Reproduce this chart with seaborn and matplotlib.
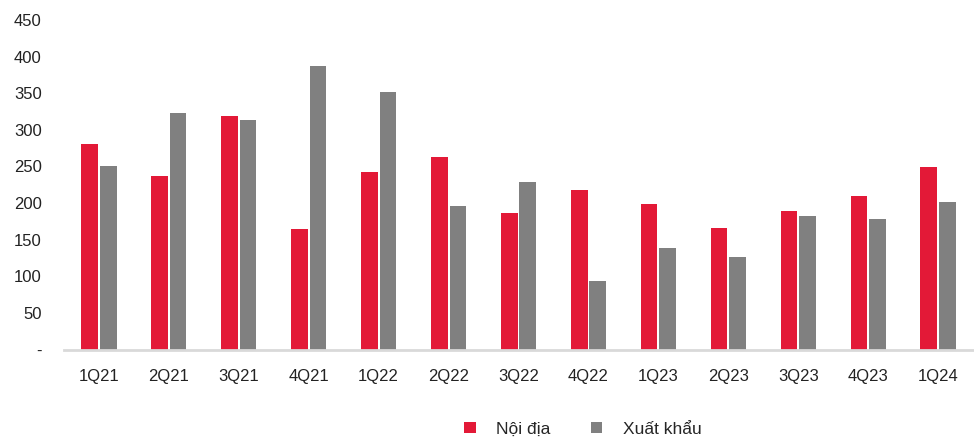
import matplotlib
matplotlib.use("Agg")
import matplotlib.pyplot as plt
import seaborn as sns
import pandas as pd

quarters = ["1Q21", "2Q21", "3Q21", "4Q21", "1Q22", "2Q22", "3Q22", "4Q22",
            "1Q23", "2Q23", "3Q23", "4Q23", "1Q24"]
noi_dia = [281, 237, 319, 165, 242, 263, 186, 218, 199, 166, 189, 210, 249]
xuat_khau = [250, 323, 313, 387, 351, 196, 229, 93, 138, 127, 183, 178, 201]
series_names = ["Nội địa", "Xuất khẩu"]
y_ticks = [0, 50, 100, 150, 200, 250, 300, 350, 400, 450]
y_labels = ["-", "50", "100", "150", "200", "250", "300", "350", "400", "450"]

df = pd.DataFrame({
    "quarter": quarters * 2,
    "value": noi_dia + xuat_khau,
    "series": [series_names[0]] * len(quarters) + [series_names[1]] * len(quarters),
})

sns.set_theme(style="white")
plt.rcParams["font.family"] = ["Liberation Sans Narrow", "Liberation Sans", "DejaVu Sans"]

fig = plt.figure(figsize=(9.74, 4.41), dpi=100)
ax = fig.add_axes([64 / 974, 1 - 349.5 / 441, 1 - 64 / 974 - 0.001, (349.5 - 20) / 441])

palette = {"Nội địa": "#E31937", "Xuất khẩu": "#808080"}
sns.barplot(data=df, x="quarter", y="value", hue="series", order=quarters,
            hue_order=series_names, palette=palette, width=0.53, gap=0.1,
            saturation=1, edgecolor="none", ax=ax)

ax.set_ylim(0, 450)
ax.set_xlim(-0.5, len(quarters) - 0.5)
ax.set_yticks(y_ticks)
ax.set_yticklabels(y_labels, fontsize=12, color="#222222")
ax.tick_params(axis="x", labelsize=12, colors="#222222", pad=14, length=0)
ax.tick_params(axis="y", length=0, pad=16)
for lab in ax.get_yticklabels():
    lab.set_horizontalalignment("right")
ax.set_xlabel("")
ax.set_ylabel("")
for s in ["top", "right", "left"]:
    ax.spines[s].set_visible(False)
ax.spines["bottom"].set_color("#d9d9d9")
ax.spines["bottom"].set_linewidth(2)

handles, labels = ax.get_legend_handles_labels()
ax.legend(handles, labels, loc="center", bbox_to_anchor=(583 / 974, 1 - 429 / 441),
          bbox_transform=fig.transFigure, ncol=2, frameon=False, fontsize=12.5,
          handlelength=0.65, handleheight=0.65, handletextpad=1.2, columnspacing=2.3)

fig.savefig("out.png", dpi=100)
